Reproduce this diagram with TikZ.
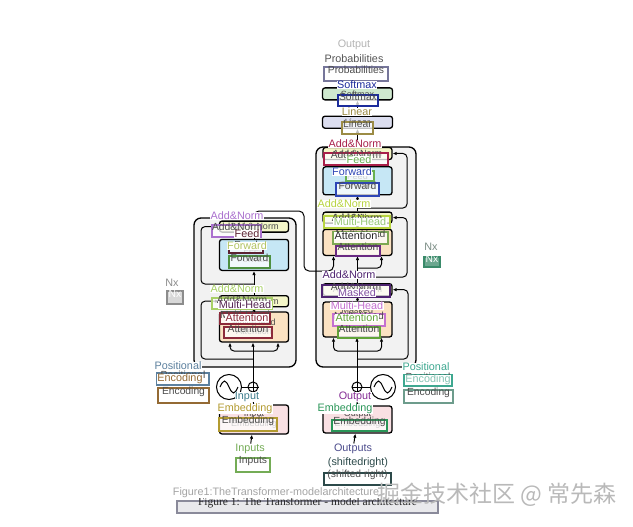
\documentclass[tikz,border=0pt]{standalone}
\usepackage{fontspec}
\setmainfont{Liberation Sans}
\newfontfamily\capfont{Liberation Serif}
\newfontfamily\cjkfont{Noto Sans CJK SC}
\usepackage{tikz}
\usetikzlibrary{arrows.meta, positioning, calc, fit}

%% figure fills
\definecolor{normfill}{HTML}{F4F6C8}
\definecolor{fffill}{HTML}{C6E7F5}
\definecolor{attfill}{HTML}{FBE2C2}
\definecolor{embfill}{HTML}{F9E0E3}
\definecolor{linfill}{HTML}{DCDEF0}
\definecolor{smfill}{HTML}{CFE9CF}
\definecolor{stackfill}{HTML}{F2F2F2}
%% detection colours
\definecolor{cProbA}{HTML}{B4B4B4}
\definecolor{cProbB}{HTML}{555555}
\definecolor{cProbBox}{HTML}{76769A}
\definecolor{cSoft}{HTML}{1C2C9C}
\definecolor{cLin}{HTML}{9C8C45}
\definecolor{cCrim}{HTML}{A8204A}
\definecolor{cFeedD}{HTML}{68B050}
\definecolor{cFwdD}{HTML}{2E46B6}
\definecolor{cLime}{HTML}{B8D440}
\definecolor{cMHLbl}{HTML}{96C878}
\definecolor{cOliv}{HTML}{7DA852}
\definecolor{cPurp}{HTML}{6B2A82}
\definecolor{cDPur}{HTML}{4E2370}
\definecolor{cMasked}{HTML}{8252A2}
\definecolor{cPink}{HTML}{C470D0}
\definecolor{cGrn}{HTML}{62A438}
\definecolor{cNxD}{HTML}{3A8A6A}
\definecolor{cNxDL}{HTML}{7A8C84}
\definecolor{cPosD}{HTML}{3EA890}
\definecolor{cEncDL}{HTML}{86C4B4}
\definecolor{cEncD}{HTML}{6D9C8C}
\definecolor{cOutE}{HTML}{842C94}
\definecolor{cDGrn}{HTML}{2A9658}
\definecolor{cOutputs}{HTML}{4C4C8C}
\definecolor{cSlate}{HTML}{2C4A4A}
\definecolor{cLav}{HTML}{AA70CE}
\definecolor{cFeedE}{HTML}{5C2232}
\definecolor{cFwdEL}{HTML}{B2C462}
\definecolor{cFwdE}{HTML}{4E9040}
\definecolor{cLimeE}{HTML}{A8D066}
\definecolor{cMHE}{HTML}{52224F}
\definecolor{cRed}{HTML}{8C2A3A}
\definecolor{cGray}{HTML}{8C8C8C}
\definecolor{cSteel}{HTML}{5C809E}
\definecolor{cBrown}{HTML}{946A34}
\definecolor{cInE}{HTML}{3C7C8C}
\definecolor{cGold}{HTML}{B39B30}
\definecolor{cInputs}{HTML}{74AC56}
\definecolor{cCap}{HTML}{8A8A9A}
\definecolor{cCapL}{HTML}{A4A4A4}

\newcommand{\lblfont}{\fontsize{10.8}{11}\selectfont}
\newcommand{\boxfont}{\fontsize{10.3}{10.5}\selectfont}
\newcommand{\orgfont}{\fontsize{9}{9.5}\selectfont}

\begin{document}
\begin{tikzpicture}[
  x=1pt, y=-1pt,
  %% figure boxes
  blk/.style={
    draw=black, line width=1.3pt, rounded corners=2.5pt,
    minimum width=69pt, inner sep=0pt, align=center,
    font=\orgfont, text=black!70},
  normbox/.style={blk, fill=normfill, minimum height=11pt},
  ffbox/.style={blk, fill=fffill},
  attbox/.style={blk, fill=attfill},
  embbox/.style={blk, fill=embfill},
  stackbox/.style={draw=black, line width=1.3pt, rounded corners=7pt,
    fill=stackfill, inner sep=0pt},
  ring/.style={circle, draw=black, line width=1pt, inner sep=0pt},
  flow/.style={-{Latex[length=4pt,width=3.5pt]}, line width=1pt},
  wire/.style={line width=1pt},
  %% detection overlay
  ocrbox/.style={draw=#1, line width=1.7pt, fill=white, fill opacity=0.75,
    text opacity=1, inner sep=0pt, font=\boxfont, text=black!70},
  ocrlbl/.style={text=#1, fill=white, inner sep=0.4pt, font=\lblfont}
]
\useasboundingbox (0,0) rectangle (633,527);

%% ── Stacks ───────────────────────────────────────────────────────────────
\node[stackbox, fit={(194,218) (296,367)}] (encStack) {};
\node[stackbox, fit={(316,147) (416,367)}] (decStack) {};

%% ── Encoder ──────────────────────────────────────────────────────────────
\node[attbox, minimum height=30pt] (encMHA) at (254,327) {Multi-Head\\Attention};
\node[normbox, above=4pt of encMHA] (encAN1) {Add \& Norm};
\node[ffbox, minimum height=31pt, above=24pt of encAN1] (encFF) {Feed\\Forward};
\node[normbox, above=6pt of encFF] (encAN2) {Add \& Norm};
\node[embbox, minimum height=29pt] (encEmb) at (254,419.5) {Input\\Embedding};
\node[ring, minimum size=10pt] (encPlus) at (253,387) {};
\node[ring, minimum size=25pt] (encPE) at (229,387) {};

%% ── Decoder ──────────────────────────────────────────────────────────────
\node[attbox, minimum height=35pt] (decMMHA) at (357.5,319.5) {Masked\\Multi-Head\\Attention};
\node[normbox, minimum height=12pt, above=5pt of decMMHA] (decAN1) {Add \& Norm};
\node[attbox, minimum height=26pt, above=27pt of decAN1] (decMHA) {Multi-Head\\Attention};
\node[normbox, above=5pt of decMHA] (decAN2) {Add \& Norm};
\node[ffbox, minimum height=28pt, above=16pt of decAN2] (decFF) {Feed\\Forward};
\node[normbox, minimum height=12pt, above=6pt of decFF] (decAN3) {Add \& Norm};
\node[blk, fill=linfill, minimum width=70pt, minimum height=12pt, above=18pt of decAN3] (linear) {Linear};
\node[blk, fill=smfill, minimum width=70pt, minimum height=12pt, above=15pt of linear] (softmax) {Softmax};
\node[embbox, minimum height=27pt] (decEmb) at (357.5,419.5) {Output\\Embedding};
\node[ring, minimum size=10pt] (decPlus) at (357,387) {};
\node[ring, minimum size=25pt] (decPE) at (383,387) {};

%% positional encoding waves and plus signs
\draw[wire] ([xshift=-9pt]encPE.center) sin ++(4.5,-6) cos ++(4.5,6) sin ++(4.5,6) cos ++(4.5,-6);
\draw[wire] ([xshift=-9pt]decPE.center) sin ++(4.5,-6) cos ++(4.5,6) sin ++(4.5,6) cos ++(4.5,-6);
\draw[wire] (encPlus.west) -- (encPlus.east) (encPlus.north) -- (encPlus.south);
\draw[wire] (decPlus.west) -- (decPlus.east) (decPlus.north) -- (decPlus.south);

%% ── Encoder connectors ───────────────────────────────────────────────────
\coordinate (encSplit) at (253,351);
\coordinate (encRes1) at (253,359);
\coordinate (encRes2) at (254,284);
\draw[flow] (encEmb) -- (encPlus);
\draw[wire] (encPE) -- (encPlus);
\draw[flow] (encPlus.north) -- (encPlus.north |- encMHA.south);
\draw[flow, rounded corners=4pt] (encSplit) -| ([xshift=-24pt]encMHA.south);
\draw[flow, rounded corners=4pt] (encSplit) -| ([xshift=24pt]encMHA.south);
\draw[flow, rounded corners=4pt] (encRes1) -- (201,359) |- (encAN1.west);
\draw[flow] (encMHA) -- (encAN1);
\draw[flow] (encAN1) -- (encFF);
\draw[flow, rounded corners=4pt] (encRes2) -- (201,284) |- (encAN2.west);
\draw[flow] (encFF) -- (encAN2);
\draw[flow, rounded corners=5pt]
  (encAN2.north) |- (304,211) |- (320,271) -| ([xshift=-24pt]decMHA.south);

%% ── Decoder connectors ───────────────────────────────────────────────────
\coordinate (decSplit) at (357,351);
\coordinate (decRes1) at (357,359);
\coordinate (decSplit2) at (357,268);
\coordinate (decRes2) at (357,277);
\coordinate (decRes3) at (357,208);
\draw[flow] (decEmb) -- (decPlus);
\draw[wire] (decPE) -- (decPlus);
\draw[flow] (decPlus.north) -- (decPlus.north |- decMMHA.south);
\draw[flow, rounded corners=4pt] (decSplit) -| ([xshift=-24pt]decMMHA.south);
\draw[flow, rounded corners=4pt] (decSplit) -| ([xshift=24pt]decMMHA.south);
\draw[flow, rounded corners=4pt] (decRes1) -- (408,359) |- (decAN1.east);
\draw[flow] (decMMHA) -- (decAN1);
\draw[flow] (decAN1.north) -- (decAN1.north |- decMHA.south);
\draw[flow, rounded corners=4pt] (decSplit2) -| ([xshift=24pt]decMHA.south);
\draw[flow, rounded corners=4pt] (decRes2) -- (407,277) |- (decAN2.east);
\draw[flow] (decMHA) -- (decAN2);
\draw[flow] (decAN2) -- (decFF);
\draw[flow, rounded corners=4pt] (decRes3) -- (407,208) |- (decAN3.east);
\draw[flow] (decFF) -- (decAN3);
\draw[flow] (decAN3) -- (linear);
\draw[flow] (linear) -- (softmax);

%% ── Detected regions ─────────────────────────────────────────────────────
\node[ocrbox=cProbBox, fit={(324,67) (388,81)}] (ocrProb) {Probabilities};
\node[ocrbox=cSoft, fit={(338,95) (378,106)}] (ocrSoftmax) {Softmax};
\node[ocrbox=cLin, fit={(342,122) (373,134)}] (ocrLinear) {Linear};
\node[ocrbox=cCrim, fit={(324,153) (388,165)}] (ocrDecNormC) {Add\&Norm};
\node[ocrbox=cFeedD, fit={(346,171) (374,181)}] (ocrDecFeed) {Feed};
\node[ocrbox=cFwdD, fit={(336,183) (379,196)}] (ocrDecFwd) {Forward};
\node[ocrbox=cLime, fit={(324,216) (390,228)}] (ocrDecNormB) {Add\&Norm};
\node[ocrbox=cOliv, fit={(333,232) (388,244)}] (ocrDecMHb) {Multi-Head};
\node[ocrbox=cPurp, fit={(336,246) (380,256)}] (ocrDecAttb) {Attention};
\node[ocrbox=cDPur, fit={(322,285) (390,297)}] (ocrDecNormA) {Add\&Norm};
\node[ocrbox=cPink, fit={(333,314) (385,326)}] (ocrDecMHa) {Multi-Head};
\node[ocrbox=cGrn, fit={(338,327) (380,338)}] (ocrDecAtta) {Attention};
\node[ocrbox=cNxD, fill=cNxD, text=white, fit={(424,257) (440,267)}] (ocrNxDec) {Nx};
\node[ocrbox=cPosD, fit={(404,375) (452,386)}] (ocrPosDec) {Positional};
\node[ocrbox=cEncD, fit={(404,390) (453,403)}] (ocrEncDec) {Encoding};
\node[ocrbox=cDGrn, fit={(332,420) (387,431)}] (ocrOutEmb) {Embedding};
\node[ocrbox=cSlate, fit={(324,473) (391,485)}] (ocrShift) {(shifted right)};
\node[ocrbox=cLav, fit={(212,225) (261,237)}] (ocrEncNormB) {Add\&Norm};
\node[ocrbox=cFeedE, fit={(229,244) (263,253)}] (ocrEncFeed) {Feed};
\node[ocrbox=cFwdE, fit={(229,256) (270,268)}] (ocrEncFwd) {Forward};
\node[ocrbox=cLimeE, fit={(212,298) (272,309)}] (ocrEncNormA) {Add\&Norm};
\node[ocrbox=cRed, fit={(220,313) (270,324)}] (ocrEncMH) {Multi-Head};
\node[ocrbox=cRed, fit={(224,327) (272,338)}] (ocrEncAtt) {Attention};
\node[ocrbox=cGray, fill=cGray!45, text=white, fit={(167,291) (183,304)}] (ocrNxEnc) {Nx};
\node[ocrbox=cSteel, fit={(157,373) (209,385)}] (ocrPosEnc) {Positional};
\node[ocrbox=cBrown, fit={(158,388) (209,403)}] (ocrEncEnc) {Encoding};
\node[ocrbox=cGold, fit={(219,418) (277,431)}] (ocrInEmb) {Embedding};
\node[ocrbox=cInputs, fit={(236,458) (270,472)}] (ocrInputs) {Inputs};
\node[ocrbox=cCap, fill=cCap!25, text=black!85, font=\capfont\fontsize{11.5}{12}\selectfont,
  fit={(177,501) (438,513)}] (ocrCaption) {Figure 1: The Transformer - model architecture};

\draw[flow] (softmax) -- (ocrProb);

%% ── Recognised text ──────────────────────────────────────────────────────
\node[ocrlbl=cProbA] (lblOutA) at (354,45) {Output};
\node[ocrlbl=cProbB] (lblOutB) at (354,59) {Probabilities};
\node[ocrlbl=cSoft] (lblSoftmax) at (357,85) {Softmax};
\node[ocrlbl=cLin] (lblLinear) at (357,112) {Linear};
\node[ocrlbl=cCrim] (lblDecNormC) at (355,144) {Add\&Norm};
\node[ocrlbl=cFeedD] (lblDecFeed) at (359,160) {Feed};
\node[ocrlbl=cFwdD] (lblDecFwd) at (352,172) {Forward};
\node[ocrlbl=cLime] (lblDecNormB) at (344,204) {Add\&Norm};
\node[ocrlbl=cMHLbl] (lblDecMHb) at (360,222) {Multi-Head};
\node[ocrlbl=black!85] (lblDecAttb) at (356,236) {Attention};
\node[ocrlbl=cDPur] (lblDecNormA) at (349,275) {Add\&Norm};
\node[ocrlbl=cMasked] (lblDecMasked) at (357,293) {Masked};
\node[ocrlbl=cPink] (lblDecMHa) at (357,306) {Multi-Head};
\node[ocrlbl=cGrn] (lblDecAtta) at (357,318) {Attention};
\node[ocrlbl=cNxDL] (lblNxDec) at (431,247) {Nx};
\node[ocrlbl=cPosD] (lblPosDec) at (426,367) {Positional};
\node[ocrlbl=cEncDL] (lblEncDec) at (428,380) {Encoding};
\node[ocrlbl=cOutE] (lblOutEmbA) at (355,397) {Output};
\node[ocrlbl=cDGrn] (lblOutEmbB) at (345,409) {Embedding};
\node[ocrlbl=cOutputs] (lblOutputs) at (353,449) {Outputs};
\node[ocrlbl=cSlate] (lblShift) at (358,463) {(shiftedright)};
\node[ocrlbl=cLav] (lblEncNormB) at (237,216) {Add\&Norm};
\node[ocrlbl=cFeedE] (lblEncFeed) at (247,234) {Feed};
\node[ocrlbl=cFwdEL] (lblEncFwd) at (247,246) {Forward};
\node[ocrlbl=cLimeE] (lblEncNormA) at (237,289) {Add\&Norm};
\node[ocrlbl=cMHE] (lblEncMH) at (245,305) {Multi-Head};
\node[ocrlbl=cRed] (lblEncAtt) at (247,318) {Attention};
\node[ocrlbl=cGray] (lblNxEnc) at (172,283) {Nx};
\node[ocrlbl=cSteel] (lblPosEnc) at (178,366) {Positional};
\node[ocrlbl=cBrown] (lblEncEnc) at (180,379) {Encoding};
\node[ocrlbl=cInE] (lblInEmbA) at (247,397) {Input};
\node[ocrlbl=cGold] (lblInEmbB) at (245,409) {Embedding};
\node[ocrlbl=cInputs] (lblInputs) at (250,449) {Inputs};
\node[ocrlbl=cCapL] (lblCaption) at (276,493) {Figure1:TheTransformer-modelarchitecture};

%% inputs into the embeddings
\draw[flow] (lblInputs) -- (encEmb);
\draw[flow] (lblOutputs) -- (decEmb);

%% watermark
\node[font=\cjkfont\fontsize{23}{23}\selectfont, text=gray!55] (wmark) at (497,495) {掘金技术社区 @ 常先森};

\end{tikzpicture}
\end{document}
